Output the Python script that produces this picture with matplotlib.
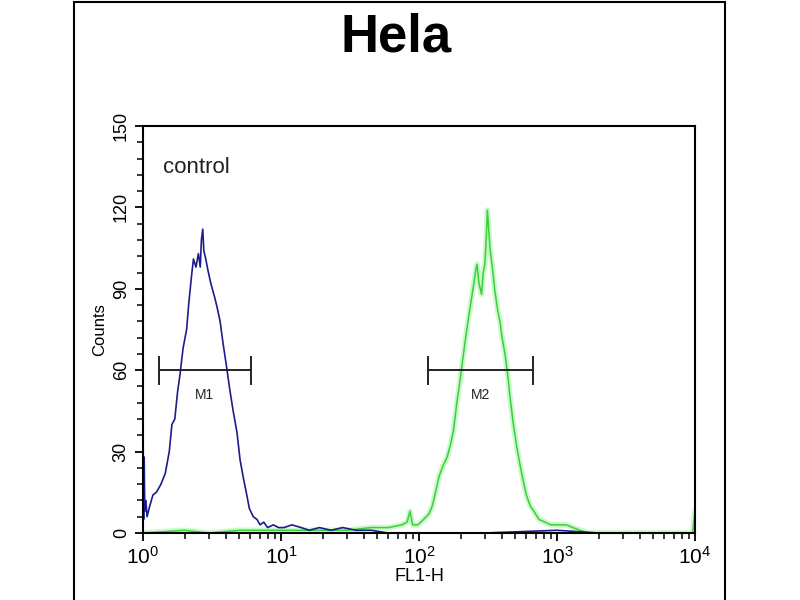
import matplotlib
matplotlib.use('Agg')
import matplotlib.pyplot as plt
from matplotlib.patches import Rectangle
from matplotlib.ticker import MultipleLocator, LogLocator
import numpy as np

plt.rcParams['font.family'] = ['Liberation Sans', 'DejaVu Sans']

title = "Hela"
sample_label = "control"
x_label = "FL1-H"
y_label = "Counts"

# control histogram (dark blue)
blue_x = [1.00, 1.01, 1.02, 1.03, 1.05, 1.07, 1.12, 1.18, 1.25, 1.35, 1.45, 1.55,
          1.62, 1.70, 1.78, 1.85, 1.95, 2.07, 2.15, 2.25, 2.32, 2.42, 2.52, 2.60,
          2.65, 2.71, 2.76, 2.85, 2.95, 3.10, 3.30, 3.45, 3.62, 3.80, 4.04, 4.25,
          4.50, 4.80, 5.05, 5.35, 5.60, 5.90, 6.30, 6.70, 7.05, 7.50, 8.0, 8.8,
          9.6, 10.5, 12, 14, 16, 19, 23, 28, 35, 45, 60, 100, 300, 1000, 2000, 10000]
blue_y = [43, 5, 28, 8, 12, 6, 10, 14, 15, 18, 22, 30,
          40, 42, 52, 58, 68, 75, 85, 95, 101, 98, 103, 98,
          108, 112, 104, 101, 97, 92, 87, 83, 78, 70, 61, 53,
          45, 37, 27, 20, 15, 9, 6, 5, 3, 4, 2, 3,
          2, 2, 3, 2, 1, 2, 1, 2, 1, 1, 0, 0, 0, 1, 0, 0]

# stained sample histogram (green)
green_x = [1.0, 2, 3, 5, 8, 12, 20, 30, 45, 60, 75, 82, 86, 90, 98, 108, 118, 125,
           133, 140, 150, 160, 170, 178, 188, 198, 210, 222, 236, 248, 258, 263,
           272, 284, 292, 300, 308, 313, 320, 327, 340, 355, 372, 386, 400, 420,
           440, 457, 480, 510, 540, 570, 600, 640, 680, 740, 820, 900, 1000, 1170,
           1300, 1470, 1700, 5000, 9600, 10000]
green_y = [0, 1, 0, 1, 1, 1, 1, 1, 2, 2, 3, 4, 8, 3, 3, 5, 7, 10,
           16, 21, 25, 28, 33, 38, 48, 56, 66, 75, 84, 91, 97, 99,
           92, 88, 96, 99, 110, 119, 112, 105, 98, 89, 82, 78, 72, 66,
           58, 50, 41, 32, 25, 19, 14, 10, 8, 5, 4, 3, 3, 3,
           2, 1, 0, 0, 0, 8]

# marker gates
m1 = (1.31, 6.03)
m2 = (117, 667)
gate_level = 60

fig = plt.figure(figsize=(8, 6), dpi=100)
fig.patches.append(Rectangle((74 / 800, -0.02), 651 / 800, 1.017, transform=fig.transFigure,
                             fill=False, edgecolor='black', linewidth=1.5))

ax = fig.add_axes([143 / 800, 67 / 600, 552 / 800, 407 / 600])

ax.plot(green_x, green_y, color='#a8f5a8', linewidth=4, alpha=0.6)
ax.plot(green_x, green_y, color='#3ccf3c', linewidth=1.1)
ax.plot(blue_x, blue_y, color='#1c1c8a', linewidth=1.2)

for lo, hi, name in [(m1[0], m1[1], 'M1'), (m2[0], m2[1], 'M2')]:
    ax.plot([lo, hi], [gate_level, gate_level], color='#222222', linewidth=1.4)
    ax.plot([lo, lo], [gate_level - 5, gate_level + 5], color='#222222', linewidth=1.4)
    ax.plot([hi, hi], [gate_level - 5, gate_level + 5], color='#222222', linewidth=1.4)
    ax.text(np.sqrt(lo * hi), gate_level - 9, name, ha='center', va='center',
            fontsize=10, color='#222222')

ax.text(0.036, 0.897, sample_label, transform=ax.transAxes, fontsize=16,
        ha='left', va='center', color='#222222')

ax.set_xscale('log')
ax.set_xlim(1, 10000)
ax.set_ylim(0, 150)
ax.yaxis.set_major_locator(MultipleLocator(30))
ax.yaxis.set_minor_locator(MultipleLocator(6))
ax.xaxis.set_minor_locator(LogLocator(base=10, subs=np.arange(2, 10)))

for s in ax.spines.values():
    s.set_linewidth(1.5)
ax.tick_params(which='major', direction='out', length=6, width=1.3, labelsize=15)
ax.tick_params(which='minor', direction='out', length=4, width=1.1)
ax.tick_params(axis='y', labelsize=13)
for lab in ax.get_yticklabels():
    lab.set_rotation(90)
    lab.set_va('center')

ax.set_xlabel(x_label, fontsize=13, labelpad=0)
ax.set_ylabel(y_label, fontsize=12, labelpad=4)

fig.text(0.495, 0.937, title, ha='center', va='center', fontsize=38, fontweight='bold')

fig.savefig('out.png', dpi=100)
